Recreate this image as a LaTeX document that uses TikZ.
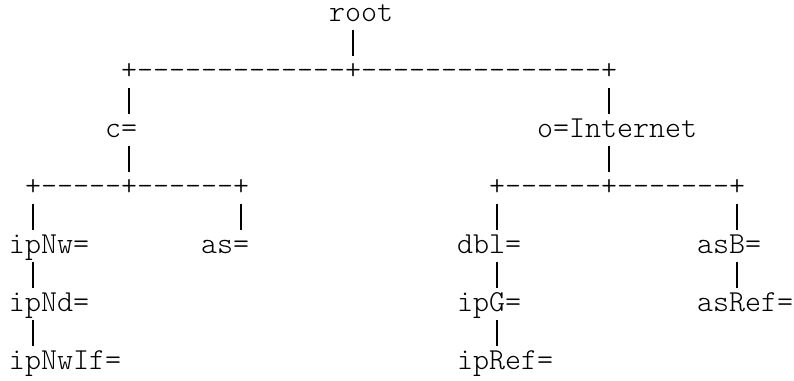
\documentclass[tikz,border=0pt]{standalone}
\begin{document}
\begin{tikzpicture}[x=16pt,y=-29pt,
  asc/.style={anchor=base west, inner sep=0pt, outer sep=0pt,
    font=\ttfamily\fontseries{l}\fontsize{30.48}{29}\selectfont},
  barline/.style={line width=1.2pt, line cap=butt}]
\useasboundingbox[fill=white] (0pt,0pt) rectangle (794pt,-380pt);
\begin{scope}[shift={(9pt,-21pt)}]
\newcommand\vbar[3]{%
  \coordinate (#1t) at ([xshift=8pt,yshift=20.5pt]#2,#3);
  \coordinate (#1b) at ([xshift=8pt,yshift=-5.5pt]#2,#3);
  \draw[barline] (#1t) -- (#1b);}
% row 0
\node[asc] (root) at (20,0) {root};
% row 1
\vbar{v1}{21}{1}
% row 2
\node[asc] (h1) at (7,2) {+-------------+---------------+};
% row 3
\vbar{v2}{7}{3}
\vbar{v3}{37}{3}
% row 4
\node[asc] (c) at (6,4) {c=};
\node[asc] (o) at (33,4) {o=Internet};
% row 5
\vbar{v4}{7}{5}
\vbar{v5}{37}{5}
% row 6
\node[asc] (h2) at (1,6) {+-----+------+};
\node[asc] (h3) at (30,6) {+------+-------+};
% row 7
\vbar{v6}{1}{7}
\vbar{v7}{14}{7}
\vbar{v8}{30}{7}
\vbar{v9}{45}{7}
% row 8
\node[asc] (ipNw) at (0,8) {ipNw=};
\node[asc] (as) at (12,8) {as=};
\node[asc] (dbl) at (28,8) {dbl=};
\node[asc] (asB) at (43,8) {asB=};
% row 9
\vbar{v10}{1}{9}
\vbar{v11}{30}{9}
\vbar{v12}{45}{9}
% row 10
\node[asc] (ipNd) at (0,10) {ipNd=};
\node[asc] (ipG) at (28,10) {ipG=};
\node[asc] (asRef) at (43,10) {asRef=};
% row 11
\vbar{v13}{1}{11}
\vbar{v14}{30}{11}
% row 12
\node[asc] (ipNwIf) at (0,12) {ipNwIf=};
\node[asc] (ipRef) at (28,12) {ipRef=};
\end{scope}
\end{tikzpicture}
\end{document}
